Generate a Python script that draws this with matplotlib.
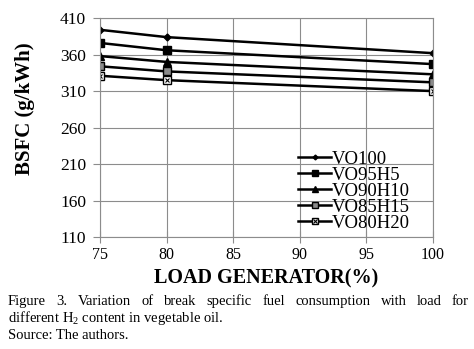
import matplotlib
matplotlib.use("Agg")
import matplotlib.pyplot as plt
from matplotlib.legend_handler import HandlerTuple

plt.rcParams['font.family'] = ['Liberation Serif', 'DejaVu Serif']
plt.rcParams['mathtext.fontset'] = 'custom'
plt.rcParams['mathtext.rm'] = 'Liberation Serif'

# data
load = [75, 80, 100]
vo100 = [394, 384, 362]
vo95h5 = [376, 366, 347]
vo90h10 = [358, 350, 333]
vo85h15 = [344, 337, 322]
vo80h20 = [331, 325, 310]
yticks = [110, 160, 210, 260, 310, 360, 410]
xticks = [75, 80, 85, 90, 95, 100]

fig = plt.figure(figsize=(4.74, 3.49), dpi=100)
ax = fig.add_axes([0.211, 0.321, 0.702, 0.627])

gc = '#8c8c8c'
l1, = ax.plot(load, vo100, color='k', lw=1.8, marker='D', ms=3.5, label='VO100')
l2, = ax.plot(load, vo95h5, color='k', lw=1.8, marker='s', ms=6, label='VO95H5')
l3, = ax.plot(load, vo90h10, color='k', lw=1.8, marker='^', ms=6, label='VO90H10')
l4, = ax.plot(load, vo85h15, color='k', lw=1.8, marker='s', ms=6, mfc='#8a8a8a', mec='k', label='VO85H15')
l5, = ax.plot(load, vo80h20, color='k', lw=1.8, marker='s', ms=6, mfc='white', mec='k', label='VO80H20')
l5x, = ax.plot(load, vo80h20, ls='none', marker='x', ms=3.5, mec='k', mew=0.8)

ax.set_xlim(75, 100)
ax.set_ylim(110, 410)
ax.set_xticks(xticks)
ax.set_yticks(yticks)
ax.grid(True, color=gc, lw=0.8)
ax.set_axisbelow(True)
for s in ax.spines.values():
    s.set_color(gc)
    s.set_linewidth(0.8)
ax.tick_params(axis='y', direction='out', length=5, color=gc, labelsize=12.5, pad=5)
ax.tick_params(axis='x', direction='inout', length=8, color=gc, labelsize=11.5, pad=3)
for lab in ax.get_xticklabels() + ax.get_yticklabels():
    lab.set_clip_on(False)

ax.set_xlabel('LOAD GENERATOR(%)', fontsize=14.5, fontweight='bold', labelpad=4)
ax.set_ylabel('BSFC (g/kWh)', fontsize=15, fontweight='bold')
ax.yaxis.set_label_coords(-0.195, 0.584)

ax.legend([l1, l2, l3, l4, (l5, l5x)], ['VO100', 'VO95H5', 'VO90H10', 'VO85H15', 'VO80H20'],
          handler_map={tuple: HandlerTuple(ndivide=1)},
          loc='lower left', bbox_to_anchor=(0.59, 0.015), frameon=False,
          fontsize=13.5, labelspacing=-0.06, handlelength=1.75, handletextpad=0.05,
          borderpad=0.1, borderaxespad=0.0, markerscale=0.7)

# caption, first line justified between x0 and x1 pixels
words = ['Figure', '3.', 'Variation', 'of', 'break', 'specific', 'fuel',
         'consumption', 'with', 'load', 'for']
x0, x1 = 8, 469
cap = 10.5
rend = fig.canvas.get_renderer()
txts = [fig.text(0, 1 - 305 / 349, w, fontsize=cap, va='baseline', ha='left') for w in words]
widths = [t.get_window_extent(rend).width for t in txts]
gap = (x1 - x0 - sum(widths)) / (len(words) - 1)
x = x0
for t, wd in zip(txts, widths):
    t.set_x(x / 474)
    x += wd + gap
fig.text(x0 / 474, 1 - 322 / 349, r'different H$_2$ content in vegetable oil.', fontsize=cap, va='baseline')
fig.text(x0 / 474, 1 - 339 / 349, 'Source: The authors.', fontsize=cap, va='baseline')

fig.savefig('out.png', dpi=100)
